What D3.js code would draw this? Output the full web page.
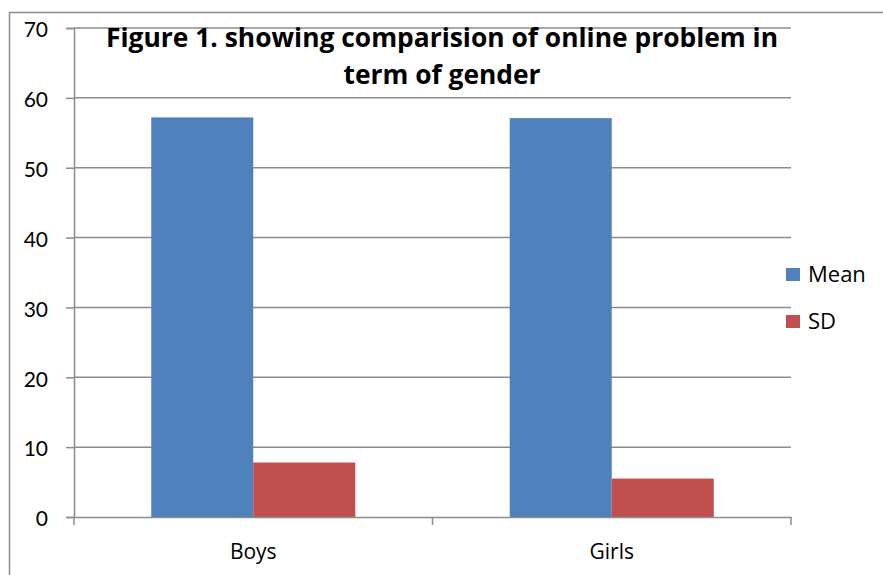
<!DOCTYPE html>
<html><head><meta charset="utf-8">
<script src="https://cdn.jsdelivr.net/npm/d3@7"></script>
<style>body{margin:0;background:#fff}svg{display:block}</style>
</head><body>
<svg id="c" width="883" height="575"></svg>
<script>
const categories = ["Boys", "Girls"];
const seriesNames = ["Mean", "SD"];
const meanValues = [57.2, 57.1];
const sdValues = [7.8, 5.5];
const yTicks = [0, 10, 20, 30, 40, 50, 60, 70];
const titleLines = ["Figure 1. showing comparision of online problem in", "term of gender"];
const colors = ["#4F81BD", "#C0504D"];

const svg = d3.select("#c");
const x0 = 74, x1 = 791, yTop = 28, yBot = 517;

// outer border
svg.append("rect").attr("x", 9.5).attr("y", 12.5).attr("width", 900).attr("height", 600)
  .attr("fill", "none").attr("stroke", "#8c8c8c").attr("stroke-width", 1.5);

const y = d3.scaleLinear().domain([0, 70]).range([yBot, yTop]);
const x = d3.scaleBand().domain(categories).range([x0, x1]).paddingInner(0).paddingOuter(0);
const xs = d3.scaleBand().domain(seriesNames).range([0, x.bandwidth()]).paddingOuter(0.757).paddingInner(0);

const grid = "#8c8c8c";
svg.append("g").selectAll("line").data(yTicks.filter(d => d > 0)).join("line")
  .attr("x1", x0).attr("x2", x1).attr("y1", d => y(d)).attr("y2", d => y(d))
  .attr("stroke", grid).attr("stroke-width", 1.5);

const data = categories.map((c, i) => ({cat: c, vals: [meanValues[i], sdValues[i]]}));
svg.append("g").selectAll("g").data(data).join("g")
  .attr("transform", d => `translate(${x(d.cat)},0)`)
  .selectAll("rect").data(d => d.vals.map((v, j) => ({s: seriesNames[j], v, j}))).join("rect")
  .attr("x", d => xs(d.s)).attr("width", xs.bandwidth())
  .attr("y", d => y(d.v)).attr("height", d => yBot - y(d.v))
  .attr("fill", d => colors[d.j]);

const yAxis = d3.axisLeft(y).tickValues(yTicks).tickSize(8).tickPadding(18);
const ga = svg.append("g").attr("transform", `translate(${x0},0)`).call(yAxis);
ga.select(".domain").attr("stroke", grid).attr("stroke-width", 1.5);
ga.selectAll(".tick line").attr("stroke", grid).attr("stroke-width", 1.5);
ga.selectAll("text").attr("font-family", "Lato, 'Noto Sans', sans-serif").attr("font-size", 21)
  .attr("fill", "#000").attr("dy", "0.42em");

const xAxis = d3.axisBottom(x).tickValues([]).tickSize(0);
const gx = svg.append("g").attr("transform", `translate(0,${yBot})`).call(xAxis);
gx.select(".domain").attr("stroke", grid).attr("stroke-width", 1.5);
const bounds = [x0, x(categories[1]), x1];
gx.selectAll("line.t").data(bounds).join("line").attr("class", "t")
  .attr("x1", d => d).attr("x2", d => d).attr("y1", 0).attr("y2", 8)
  .attr("stroke", grid).attr("stroke-width", 1.5);
svg.append("g").selectAll("text").data(categories).join("text")
  .attr("x", d => x(d) + x.bandwidth() / 2).attr("y", 559)
  .attr("text-anchor", "middle").attr("font-family", "'Open Sans', sans-serif").attr("font-size", 21)
  .attr("fill", "#000").text(d => d);

svg.append("g").selectAll("text").data(titleLines).join("text")
  .attr("x", 442).attr("y", (d, i) => 47 + i * 37)
  .attr("text-anchor", "middle").attr("font-family", "'Open Sans', sans-serif")
  .attr("font-weight", "bold").attr("font-size", 27).attr("fill", "#000")
  .attr("textLength", (d, i) => i === 0 ? 672 : 197).attr("lengthAdjust", "spacingAndGlyphs")
  .text(d => d);

const lg = svg.append("g").selectAll("g").data(seriesNames).join("g")
  .attr("transform", (d, i) => `translate(786,${268 + i * 47})`);
lg.append("rect").attr("width", 14).attr("height", 13).attr("fill", (d, i) => colors[i]);
lg.append("text").attr("x", 22).attr("y", 13.5).attr("font-family", "'Open Sans', sans-serif")
  .attr("font-size", 22).attr("fill", "#000").text(d => d);
</script>
</body></html>
